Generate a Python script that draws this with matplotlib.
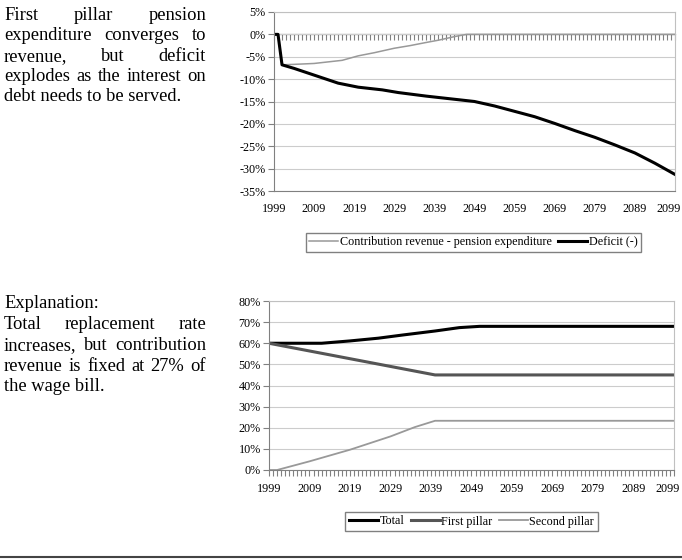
import numpy as np
import matplotlib
matplotlib.use('Agg')
import matplotlib.pyplot as plt
from matplotlib.lines import Line2D
from matplotlib.transforms import ScaledTranslation

plt.rcParams['font.family'] = 'Liberation Serif'

# top chart data (share of GDP, %)
gap_years = [1999, 2000, 2001, 2004, 2009, 2012, 2016, 2020, 2024, 2029, 2033, 2037, 2040, 2044, 2047, 2099]
gap_values = [0, 0, -6.8, -6.7, -6.5, -6.2, -5.8, -4.8, -4.1, -3.1, -2.5, -1.8, -1.3, -0.5, 0, 0]

deficit_years = [1999, 2000, 2001, 2004, 2009, 2015, 2020, 2026, 2030, 2037, 2044, 2049, 2054,
                 2059, 2064, 2069, 2074, 2079, 2084, 2089, 2094, 2099]
deficit_values = [0, 0, -6.8, -7.6, -9.1, -10.9, -11.8, -12.4, -13.0, -13.8, -14.5, -15.0, -16.0,
                  -17.2, -18.4, -19.9, -21.5, -23.0, -24.7, -26.5, -28.8, -31.3]

# bottom chart data (replacement rate, %)
total_years = [1999, 2012, 2019, 2026, 2032, 2040, 2046, 2051, 2099]
total_values = [60, 60, 61.1, 62.4, 63.9, 65.8, 67.4, 68, 68]
first_years = [1999, 2040, 2099]
first_values = [60, 45, 45]
second_years = [1999, 2001, 2009, 2019, 2029, 2035, 2040, 2099]
second_values = [0, 0, 4.1, 9.6, 15.9, 20.3, 23.3, 23.3]

all_years = np.arange(1999, 2100)
label_years = np.arange(1999, 2100, 10)

text_top = ["First pillar pension", "expenditure converges to", "revenue, but deficit",
            "explodes as the interest on", "debt needs to be served."]
text_bottom = ["Total replacement rate", "increases, but contribution",
               "revenue is fixed at 27% of", "the wage bill."]

W, H = 682, 560
TXT = 13.3
TICK = 8.7
fig = plt.figure(figsize=(W / 100, H / 100), dpi=100)


def px_axes(l, t, r, b):
    return fig.add_axes([l / W, 1 - b / H, (r - l) / W, (b - t) / H])


def justify(lines, x0, x1, base0, dy, size=TXT):
    r = fig.canvas.get_renderer()
    for i, line in enumerate(lines):
        y = 1 - (base0 + i * dy) / H
        words = line.split()
        if i == len(lines) - 1 or len(words) == 1:
            fig.text(x0 / W, y, line, fontsize=size, va='baseline')
            continue
        texts = [fig.text(0, y, w, fontsize=size, va='baseline') for w in words]
        widths = [t.get_window_extent(r).width for t in texts]
        gap = (x1 - x0 - sum(widths)) / (len(words) - 1)
        x = x0
        for t, w in zip(texts, widths):
            t.set_x(x / W)
            x += w + gap


def style_axes(ax):
    ax.grid(axis='y', color='#cccccc', linewidth=0.8)
    ax.set_axisbelow(True)
    for s in ['top', 'right']:
        ax.spines[s].set_color('#c0c0c0')
    ax.spines['left'].set_color('#808080')
    ax.spines['bottom'].set_color('#808080')
    ax.tick_params(axis='y', labelsize=TICK, length=4, color='#808080', pad=2)
    ax.tick_params(axis='x', labelsize=TICK, pad=5)
    ax.set_xlim(1999, 2099)


def shift_last_label(ax):
    fig.canvas.draw()
    labs = [t for t in ax.get_xticklabels() if t.get_text()]
    last = labs[-1]
    last.set_transform(last.get_transform() + ScaledTranslation(-6 / 100, 0, fig.dpi_scale_trans))


def add_legend(ax, cx, cy):
    ax.legend(loc='center', bbox_to_anchor=(cx / W, 1 - cy / H), bbox_transform=fig.transFigure,
              ncol=3, fontsize=TICK, frameon=True, fancybox=False, edgecolor='#808080', framealpha=1,
              handlelength=2.4, handletextpad=0.15, columnspacing=0.5, borderpad=0.3)


# --- top chart
ax1 = px_axes(274, 12, 675, 191)
ax1.plot(gap_years, gap_values, color='#999999', linewidth=1.1, label='Contribution revenue - pension expenditure')
ax1.plot(deficit_years, deficit_values, color='black', linewidth=2.2, label='Deficit (-)')
ax1.set_ylim(-35, 5)
ax1.set_yticks(np.arange(-35, 6, 5))
ax1.set_yticklabels(['%d%%' % v for v in np.arange(-35, 6, 5)])
style_axes(ax1)
ax1.set_xticks(label_years)
ax1.set_xticklabels([str(y) for y in label_years])
ax1.tick_params(axis='x', length=0, pad=9)
sec = ax1.secondary_xaxis(35 / 40)
sec.set_xticks(all_years)
sec.xaxis.set_ticks_position('bottom')
sec.tick_params(axis='x', length=4, color='#808080', labelbottom=False, labeltop=False)
sec.spines['bottom'].set_color('#808080')
add_legend(ax1, (304 + 643) / 2, 242.5)

# --- bottom chart
ax2 = px_axes(269, 301, 674, 470)
ax2.plot(total_years, total_values, color='black', linewidth=2.2, label='Total')
ax2.plot(first_years, first_values, color='#555555', linewidth=2.2, label='First pillar')
ax2.plot(second_years, second_values, color='#999999', linewidth=1.3, label='Second pillar')
ax2.set_ylim(0, 80)
ax2.set_yticks(np.arange(0, 81, 10))
ax2.set_yticklabels(['%d%%' % v for v in np.arange(0, 81, 10)])
style_axes(ax2)
ax2.set_xticks(all_years)
ax2.set_xticklabels([str(y) if (y - 1999) % 10 == 0 else '' for y in all_years])
ax2.tick_params(axis='x', length=4, color='#808080')
add_legend(ax2, (343 + 600) / 2, 521.5)

shift_last_label(ax1)
shift_last_label(ax2)

# --- left texts
justify(text_top, 4, 206, 20, 20.3)
fig.text(4 / W, 1 - 308 / H, "Explanation:", fontsize=TXT, va='baseline')
justify(text_bottom, 4, 206, 329, 20.8)

fig.add_artist(Line2D([0, 1], [1 - 557 / H, 1 - 557 / H], transform=fig.transFigure,
                      color='#444444', linewidth=1.5))

fig.savefig('out.png', dpi=100)
